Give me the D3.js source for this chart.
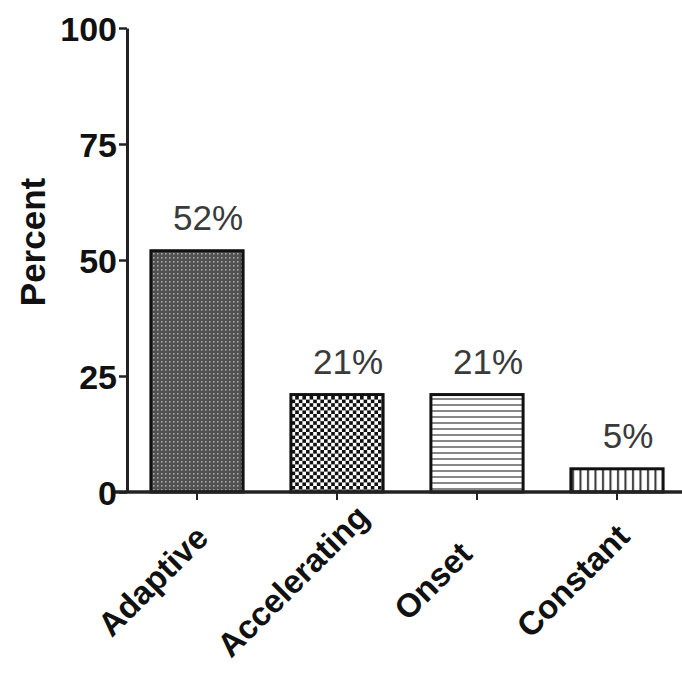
<!DOCTYPE html>
<html><head><meta charset="utf-8">
<script src="https://cdn.jsdelivr.net/npm/d3@7"></script>
<style>html,body{margin:0;padding:0;background:#fff;}svg{display:block;}</style>
</head><body>
<svg id="chart" width="682" height="675"></svg>
<script>
const categories = ["Adaptive", "Accelerating", "Onset", "Constant"];
const percents = [52, 21, 21, 5];
const valueLabels = ["52%", "21%", "21%", "5%"];
const yTicks = [0, 25, 50, 75, 100];
const patterns = ["dots", "checker", "hstripes", "vstripes"];

const svg = d3.select("#chart");
const defs = svg.append("defs");

// dark fine grid pattern
const p1 = defs.append("pattern").attr("id","dots").attr("patternUnits","userSpaceOnUse").attr("width",4).attr("height",4);
p1.append("rect").attr("width",4).attr("height",4).attr("fill","#505050");
p1.append("rect").attr("x",1).attr("y",1).attr("width",1.6).attr("height",1.6).attr("fill","#a8a8a8");
// checker
const p2 = defs.append("pattern").attr("id","checker").attr("patternUnits","userSpaceOnUse").attr("width",7.2).attr("height",7.2);
p2.append("rect").attr("width",7.2).attr("height",7.2).attr("fill","#fff");
p2.append("rect").attr("width",3.6).attr("height",3.6).attr("fill","#111");
p2.append("rect").attr("x",3.6).attr("y",3.6).attr("width",3.6).attr("height",3.6).attr("fill","#111");
// horizontal stripes
const p3 = defs.append("pattern").attr("id","hstripes").attr("patternUnits","userSpaceOnUse").attr("width",6).attr("height",6);
p3.append("rect").attr("width",6).attr("height",6).attr("fill","#fff");
p3.append("rect").attr("y",2).attr("width",6).attr("height",2).attr("fill","#888");
// vertical stripes
const p4 = defs.append("pattern").attr("id","vstripes").attr("patternUnits","userSpaceOnUse").attr("width",7.5).attr("height",7.5);
p4.append("rect").attr("width",7.5).attr("height",7.5).attr("fill","#fff");
p4.append("rect").attr("x",2).attr("width",2).attr("height",7.5).attr("fill","#333");

const x = d3.scaleBand().domain(categories).range([127, 687]).paddingInner(0.32).paddingOuter(0.16);
const y = d3.scaleLinear().domain([0, 100]).range([492, 28]);
const font = "Liberation Sans, Arial, Helvetica, sans-serif";

// bars
svg.append("g").selectAll("rect").data(categories).join("rect")
  .attr("x", d => x(d) + 1.5)
  .attr("y", (d,i) => y(percents[i]))
  .attr("width", x.bandwidth() - 3)
  .attr("height", (d,i) => y(0) - y(percents[i]))
  .attr("fill", (d,i) => `url(#${patterns[i]})`)
  .attr("stroke", "#111")
  .attr("stroke-width", 3);

// value labels
svg.append("g").selectAll("text").data(categories).join("text")
  .attr("x", d => x(d) + x.bandwidth()/2 + 11)
  .attr("y", (d,i) => y(percents[i]) - 21)
  .attr("text-anchor", "middle")
  .attr("font-family", font)
  .attr("font-size", 35)
  .attr("fill", "#3a3a3a")
  .text((d,i) => valueLabels[i]);

// y axis
const yAxis = svg.append("g").attr("transform", "translate(127,0)")
  .call(d3.axisLeft(y).tickValues(yTicks).tickSize(8).tickPadding(2).tickSizeOuter(0));
yAxis.select(".domain").attr("stroke","#222").attr("stroke-width",3);
yAxis.selectAll(".tick line").attr("stroke","#222").attr("stroke-width",2.5);
yAxis.selectAll(".tick text")
  .attr("font-family", font)
  .attr("font-weight","bold").attr("font-size",34).attr("fill","#111")
  .attr("dy","0.36em");

// x axis
const xAxis = svg.append("g").attr("transform", "translate(0,492)")
  .call(d3.axisBottom(x).tickSize(8).tickSizeOuter(0));
xAxis.select(".domain").attr("d", "M115,0H682").attr("stroke","#222").attr("stroke-width",3.5);
xAxis.selectAll(".tick line").attr("stroke","#222").attr("stroke-width",2);
xAxis.selectAll(".tick text")
  .attr("font-family", font)
  .attr("font-weight","bold").attr("font-size",33).attr("fill","#111")
  .attr("text-anchor","middle")
  .attr("y", 0).attr("dy", 0)
  .attr("transform","translate(-36,97) rotate(-45)");

// y axis title
svg.append("text")
  .attr("transform", "translate(45,242) rotate(-90)")
  .attr("text-anchor","middle")
  .attr("font-family", font)
  .attr("font-weight","bold").attr("font-size",35).attr("fill","#111")
  .text("Percent");
</script>
</body></html>
